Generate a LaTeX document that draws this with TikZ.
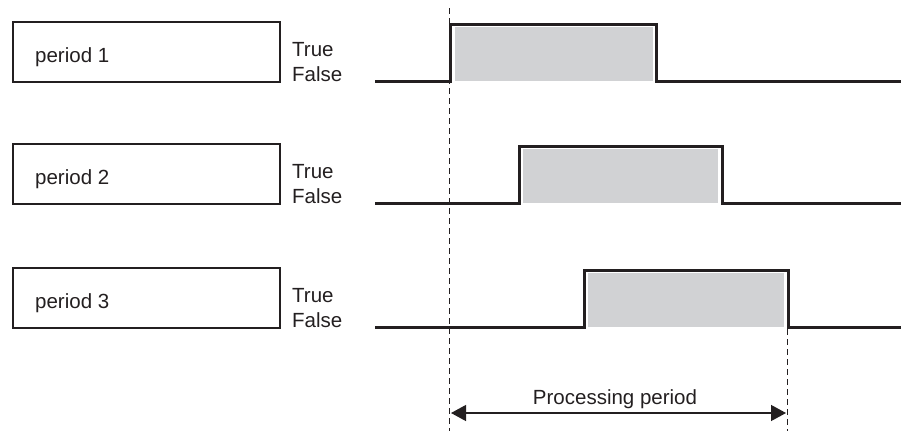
\documentclass[tikz,border=0pt]{standalone}
\usepackage{fontspec}
\setmainfont{Liberation Sans}
\usetikzlibrary{arrows.meta}
\definecolor{fillgray}{HTML}{D1D2D4}
\definecolor{ink}{HTML}{231F20}
\tikzset{
  periodbox/.style={draw=ink, line width=1.8pt, minimum width=267pt, minimum height=60pt, inner sep=0pt, anchor=north west},
  txt/.style={font=\fontsize{20.5}{24}\selectfont, text=ink, inner sep=0pt, anchor=base west},
  signal/.style={draw=ink, line width=3pt, line join=miter},
  pulse/.style={fill=fillgray, draw=none},
  guide/.style={draw=ink, line width=0.9pt, dash pattern=on 6pt off 4pt},
  measure/.style={draw=ink, line width=1.3pt, {Triangle[length=15pt,width=16pt]}-{Triangle[length=15pt,width=16pt]}}
}
\begin{document}
\begin{tikzpicture}[x=1pt,y=-1pt]
\useasboundingbox (0,0) rectangle (901,431);
\foreach \i/\off/\r/\f in {1/0/450.5/656.5, 2/122/519/722, 3/246/584/788}{
  \node[periodbox] (box\i) at (12,21+\off) {};
  \node[txt] (name\i) at (35,62+\off) {period \i};
  \node[txt] (true\i) at (292,56+\off) {True};
  \node[txt] (false\i) at (292,81+\off) {False};
  \fill[pulse] (\r+4,27+\off) rectangle (\f-4,81+\off);
  \draw[signal] (375,81+\off) -- (\r,81+\off) -- (\r,24.5+\off) -- (\f,24.5+\off) -- (\f,81+\off) -- (901,81+\off);
}
\coordinate (ltop) at (449.5,8);
\coordinate (lbot) at (449.5,431);
\coordinate (rtop) at (787.5,329);
\coordinate (rbot) at (787.5,431);
\draw[guide] (ltop) -- (lbot);
\draw[guide] (rtop) -- (rbot);
\coordinate (astart) at (451,413);
\coordinate (aend) at (786,413);
\draw[measure] (astart) -- (aend);
\node[txt, anchor=base] (proc) at (615,404) {Processing period};
\end{tikzpicture}
\end{document}
